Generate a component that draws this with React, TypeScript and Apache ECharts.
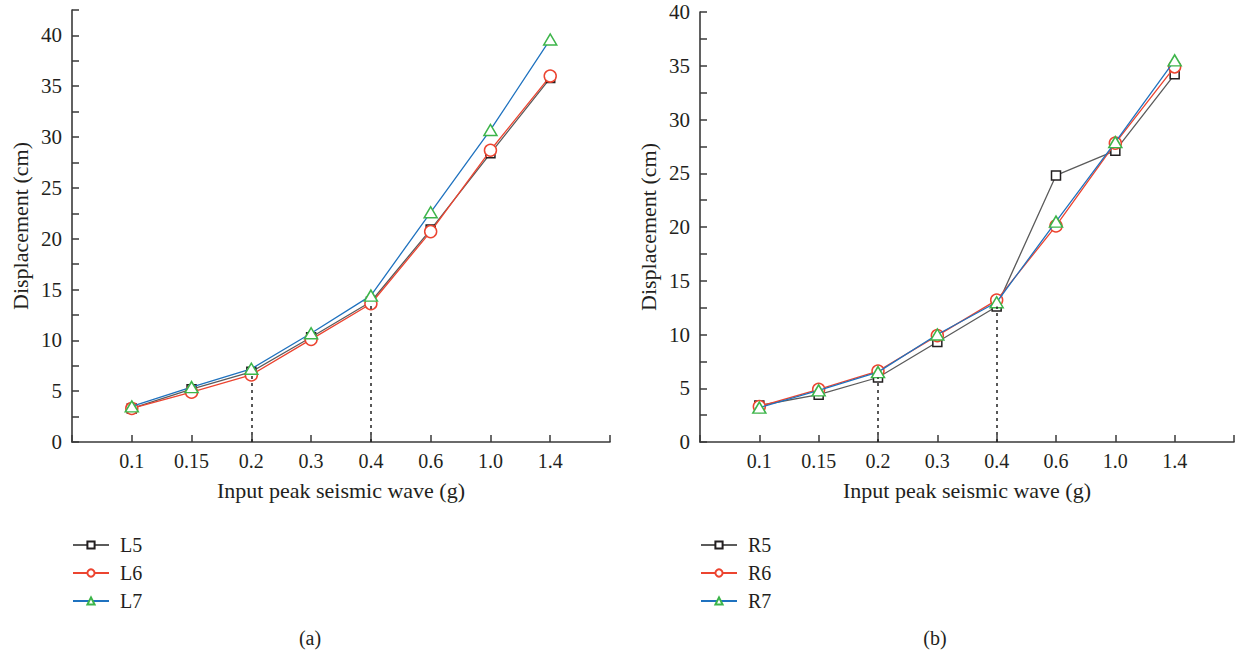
import React, { useEffect, useRef } from "react";
import * as echarts from "echarts";

// Input peak seismic wave (g) categories
const categories = ["0.1", "0.15", "0.2", "0.3", "0.4", "0.6", "1.0", "1.4"];

// Displacement (cm), left side monitoring points
const l5 = [3.3, 5.2, 6.9, 10.3, 13.8, 20.9, 28.4, 35.8];
const l6 = [3.3, 4.9, 6.6, 10.1, 13.6, 20.7, 28.7, 36.0];
const l7 = [3.5, 5.4, 7.2, 10.7, 14.4, 22.6, 30.7, 39.6];

// Displacement (cm), right side monitoring points
const r5 = [3.4, 4.4, 6.0, 9.3, 12.6, 24.8, 27.1, 34.2];
const r6 = [3.3, 4.9, 6.6, 9.9, 13.2, 20.1, 27.8, 34.9];
const r7 = [3.2, 4.8, 6.5, 10.0, 13.0, 20.5, 27.9, 35.5];

// Category indices that get a dotted guide line down to the axis
const guideIdx = [2, 4];

const FONT = "'Liberation Serif', 'Times New Roman', serif";
const TEXT = "#231f20";
const AXIS = "#3a3a3a";

const styles = [
  { line: "#5b5b5b", sym: "#231f20", symbol: "rect", size: 9 },
  { line: "#ec4430", sym: "#ec4430", symbol: "circle", size: 12 },
  { line: "#1f72bf", sym: "#3db54a", symbol: "triangle", size: [13, 11] },
];

const toPoints = (vals: number[]) => vals.map((v, i) => [i + 1, v]);

function makeSeries(names: string[], data: number[][], idx: number, guideFrom: number[]) {
  return names.map((name, k) => {
    const s = styles[k];
    const series: any = {
      name,
      type: "line",
      xAxisIndex: idx,
      yAxisIndex: idx,
      data: toPoints(data[k]),
      symbol: s.symbol,
      symbolSize: s.size,
      showAllSymbol: true,
      lineStyle: { color: s.line, width: 1.3 },
      itemStyle: { color: "#ffffff", borderColor: s.sym, borderWidth: 1.5 },
      emphasis: { disabled: true },
      z: 2 + k,
    };
    if (k === 0) {
      series.markLine = {
        silent: true,
        symbol: "none",
        label: { show: false },
        lineStyle: { color: "#222", type: [3, 4], width: 1.5 },
        data: guideIdx.map((gi) => [
          { coord: [gi + 1, 0] },
          { coord: [gi + 1, guideFrom[gi]] },
        ]),
      };
    }
    return series;
  });
}

function xAxis(idx: number) {
  return {
    type: "value",
    gridIndex: idx,
    min: 0,
    max: 9,
    interval: 1,
    name: "Input peak seismic wave (g)",
    nameLocation: "middle",
    nameGap: 37,
    nameTextStyle: { fontFamily: FONT, fontSize: 22, color: TEXT },
    axisLine: { lineStyle: { color: AXIS, width: 1.6 } },
    axisTick: { inside: true, length: 7, lineStyle: { color: AXIS, width: 1.5 } },
    axisLabel: {
      margin: 9,
      fontFamily: FONT,
      fontSize: 20,
      color: TEXT,
      formatter: (v: number) => categories[v - 1] ?? "",
    },
    splitLine: { show: false },
  };
}

function yAxis(idx: number, max: number) {
  return {
    type: "value",
    gridIndex: idx,
    min: 0,
    max,
    interval: 2.5,
    name: "Displacement (cm)",
    nameLocation: "middle",
    nameGap: 41,
    nameTextStyle: { fontFamily: FONT, fontSize: 22, color: TEXT },
    axisLine: { show: true, lineStyle: { color: AXIS, width: 1.6 } },
    axisTick: { show: true, inside: true, length: 7, lineStyle: { color: AXIS, width: 1.5 } },
    axisLabel: {
      margin: 10,
      fontFamily: FONT,
      fontSize: 21,
      color: TEXT,
      formatter: (v: number) => (v % 5 === 0 ? String(v) : ""),
    },
    splitLine: { show: false },
  };
}

function legend(left: number, names: string[]) {
  return {
    orient: "vertical",
    left,
    top: 530,
    itemWidth: 36,
    itemHeight: 9,
    itemGap: 8,
    data: names,
    selectedMode: false,
    textStyle: {
      fontFamily: FONT,
      fontSize: 20,
      lineHeight: 20,
      color: TEXT,
      padding: [0, 0, 0, 6],
    },
  };
}

export default function App() {
  const ref = useRef<HTMLDivElement>(null);

  useEffect(() => {
    if (!ref.current) return;
    const chart = echarts.init(ref.current, undefined, { renderer: "svg" });
    const leftNames = ["L5", "L6", "L7"];
    const rightNames = ["R5", "R6", "R7"];
    chart.setOption({
      animation: false,
      backgroundColor: "#ffffff",
      grid: [
        { left: 72, top: 10, width: 538, height: 432 },
        { left: 700, top: 12, width: 536, height: 430 },
      ],
      xAxis: [xAxis(0), xAxis(1)],
      yAxis: [yAxis(0, 42.5), yAxis(1, 40)],
      legend: [legend(67, leftNames), legend(695, rightNames)],
      series: [
        ...makeSeries(leftNames, [l5, l6, l7], 0, l6),
        ...makeSeries(rightNames, [r5, r6, r7], 1, r5),
      ],
      graphic: [
        {
          type: "text",
          x: 310,
          y: 638,
          style: { text: "(a)", font: `20px ${FONT}`, fill: TEXT, align: "center", verticalAlign: "middle" },
        },
        {
          type: "text",
          x: 935,
          y: 638,
          style: { text: "(b)", font: `20px ${FONT}`, fill: TEXT, align: "center", verticalAlign: "middle" },
        },
      ],
    });
    return () => chart.dispose();
  }, []);

  return (
    <div
      ref={ref}
      style={{ position: "absolute", left: 0, top: 0, width: 1237, height: 655 }}
    />
  );
}
